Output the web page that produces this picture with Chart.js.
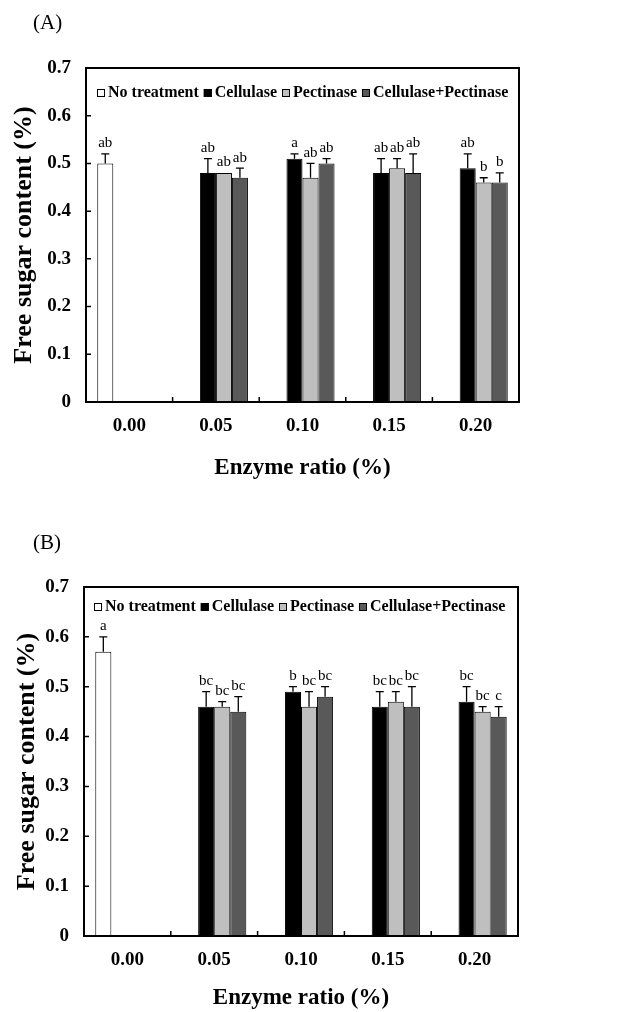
<!DOCTYPE html>
<html lang="en">
<head>
<meta charset="UTF-8">
<title>Free sugar content - enzyme ratio</title>
<script src="https://cdn.jsdelivr.net/npm/chart.js"></script>
<style>
  body {
    margin: 0;
    background: #fff;
    width: 632px;
    height: 1012px;
    position: relative;
    overflow: hidden;
    font-family: 'Liberation Serif', serif;
  }
  canvas { position: absolute; left: 0; }
  .panel-label {
    position: absolute;
    left: 33px;
    font-size: 21px;
    line-height: 1;
    color: #000;
  }
</style>
</head>
<body>

<canvas id="chartA" width="632" height="500" style="top:0"></canvas>
<canvas id="chartB" width="632" height="516" style="top:496px"></canvas>
<div class="panel-label" style="top:12px">(A)</div>
<div class="panel-label" style="top:532px">(B)</div>

<script>
// categorias e séries
const categories = ['0.00', '0.05', '0.10', '0.15', '0.20'];
const seriesNames = ['No treatment', 'Cellulase', 'Pectinase', 'Cellulase+Pectinase'];
const seriesColors = ['#ffffff', '#000000', '#bfbfbf', '#595959'];
const yTicks = [0, 0.1, 0.2, 0.3, 0.4, 0.5, 0.6, 0.7];

// (A)
const noTreatA = [0.50, null, null, null, null];
const cellA    = [null, 0.48, 0.51, 0.48, 0.49];
const pectA    = [null, 0.48, 0.47, 0.49, 0.46];
const bothA    = [null, 0.47, 0.50, 0.48, 0.46];
const noTreatErrA = [0.02, 0, 0, 0, 0];
const cellErrA    = [0, 0.03, 0.01, 0.03, 0.03];
const pectErrA    = [0, 0, 0.03, 0.02, 0.01];
const bothErrA    = [0, 0.02, 0.01, 0.04, 0.02];
const noTreatLetA = ['ab', '', '', '', ''];
const cellLetA    = ['', 'ab', 'a', 'ab', 'ab'];
const pectLetA    = ['', 'ab', 'ab', 'ab', 'b'];
const bothLetA    = ['', 'ab', 'ab', 'ab', 'b'];

// (B)
const noTreatB = [0.57, null, null, null, null];
const cellB    = [null, 0.46, 0.49, 0.46, 0.47];
const pectB    = [null, 0.46, 0.46, 0.47, 0.45];
const bothB    = [null, 0.45, 0.48, 0.46, 0.44];
const noTreatErrB = [0.03, 0, 0, 0, 0];
const cellErrB    = [0, 0.03, 0.01, 0.03, 0.03];
const pectErrB    = [0, 0.01, 0.03, 0.02, 0.01];
const bothErrB    = [0, 0.03, 0.02, 0.04, 0.02];
const noTreatLetB = ['a', '', '', '', ''];
const cellLetB    = ['', 'bc', 'b', 'bc', 'bc'];
const pectLetB    = ['', 'bc', 'bc', 'bc', 'bc'];
const bothLetB    = ['', 'bc', 'bc', 'bc', 'c'];

const FONT = 'Liberation Serif';

// barras de erro + letras
const errorBars = {
  id: 'errorBars',
  afterDatasetsDraw(chart) {
    const ctx = chart.ctx;
    const yScale = chart.scales.y;
    ctx.save();
    ctx.strokeStyle = '#000';
    ctx.fillStyle = '#000';
    ctx.lineWidth = 1.3;
    ctx.font = '15px "' + FONT + '"';
    ctx.textAlign = 'center';
    ctx.textBaseline = 'bottom';
    chart.data.datasets.forEach((ds, i) => {
      const meta = chart.getDatasetMeta(i);
      meta.data.forEach((bar, j) => {
        const v = ds.data[j];
        if (v === null) return;
        const e = ds.errors[j] || 0;
        const yTop = yScale.getPixelForValue(v + e);
        if (e > 0) {
          ctx.beginPath();
          ctx.moveTo(bar.x, bar.y);
          ctx.lineTo(bar.x, yTop);
          ctx.moveTo(bar.x - 4, yTop);
          ctx.lineTo(bar.x + 4, yTop);
          ctx.stroke();
        }
        if (ds.letters[j]) ctx.fillText(ds.letters[j], bar.x, yTop - 3);
      });
    });
    ctx.restore();
  }
};

// moldura + ticks internos + legenda dentro do gráfico
const frameAndLegend = {
  id: 'frameAndLegend',
  afterDraw(chart, args, opts) {
    const { ctx, chartArea: a } = chart;
    const xs = chart.scales.x, ys = chart.scales.y;
    ctx.save();
    ctx.strokeStyle = '#000';
    ctx.lineWidth = 2;
    ctx.strokeRect(a.left, a.top, a.right - a.left, a.bottom - a.top);

    ctx.lineWidth = 1.5;
    ctx.beginPath();
    yTicks.forEach(t => {
      const y = ys.getPixelForValue(t);
      ctx.moveTo(a.left, y);
      ctx.lineTo(a.left + 5, y);
    });
    for (let i = 0; i < categories.length - 1; i++) {
      const x = (xs.getPixelForValue(i) + xs.getPixelForValue(i + 1)) / 2;
      ctx.moveTo(x, a.bottom);
      ctx.lineTo(x, a.bottom - 5);
    }
    ctx.stroke();

    ctx.font = 'bold 16px "' + FONT + '"';
    ctx.textBaseline = 'middle';
    ctx.lineWidth = 1;
    let x = a.left + opts.dx;
    const y = a.top + opts.dy;
    chart.data.datasets.forEach(ds => {
      ctx.fillStyle = ds.backgroundColor;
      ctx.fillRect(x, y - 4, 8, 8);
      ctx.strokeRect(x + 0.5, y - 3.5, 7, 7);
      ctx.fillStyle = '#000';
      ctx.fillText(ds.label, x + 11, y);
      x += 11 + ctx.measureText(ds.label).width + 5;
    });
    ctx.restore();
  }
};

function makeDatasets(values, errors, letters) {
  return seriesNames.map((name, i) => ({
    label: name,
    data: values[i],
    errors: errors[i],
    letters: letters[i],
    backgroundColor: seriesColors[i],
    borderColor: '#000',
    borderWidth: 1,
    categoryPercentage: 0.74,
    barPercentage: 1.0
  }));
}

function makeChart(id, datasets, pad, yWidth, xHeight, legendPos) {
  return new Chart(document.getElementById(id), {
    type: 'bar',
    data: { labels: categories, datasets: datasets },
    options: {
      responsive: false,
      animation: false,
      layout: { padding: pad },
      plugins: {
        legend: { display: false },
        tooltip: { enabled: false },
        frameAndLegend: legendPos
      },
      scales: {
        x: {
          offset: true,
          grid: { display: false, drawTicks: false },
          border: { display: false },
          ticks: { color: '#000', padding: 13, maxRotation: 0, font: { family: FONT, size: 19, weight: 'bold' } },
          title: {
            display: true,
            text: 'Enzyme ratio (%)',
            color: '#000',
            padding: { top: 4, bottom: 0 },
            font: { family: FONT, size: 23, weight: 'bold' }
          },
          afterFit(s) { s.height = xHeight; }
        },
        y: {
          min: 0,
          max: 0.7,
          grid: { display: false, drawTicks: false },
          border: { display: false },
          ticks: {
            stepSize: 0.1,
            color: '#000',
            padding: 15,
            font: { family: FONT, size: 19, weight: 'bold' },
            callback: v => (v === 0 ? '0' : Number(v).toFixed(1))
          },
          title: {
            display: true,
            text: 'Free sugar content (%)',
            color: '#000',
            padding: { top: 4, bottom: 0 },
            font: { family: FONT, size: 26, weight: 'bold' }
          },
          afterFit(s) { s.width = yWidth; }
        }
      }
    },
    plugins: [errorBars, frameAndLegend]
  });
}

makeChart('chartA',
  makeDatasets([noTreatA, cellA, pectA, bothA],
               [noTreatErrA, cellErrA, pectErrA, bothErrA],
               [noTreatLetA, cellLetA, pectLetA, bothLetA]),
  { top: 68, left: 5, right: 113, bottom: 18 }, 81, 80, { dx: 11, dy: 25 });

makeChart('chartB',
  makeDatasets([noTreatB, cellB, pectB, bothB],
               [noTreatErrB, cellErrB, pectErrB, bothErrB],
               [noTreatLetB, cellLetB, pectLetB, bothLetB]),
  { top: 91, left: 8, right: 114, bottom: 0 }, 76, 76, { dx: 10, dy: 20 });
</script>

</body>
</html>
